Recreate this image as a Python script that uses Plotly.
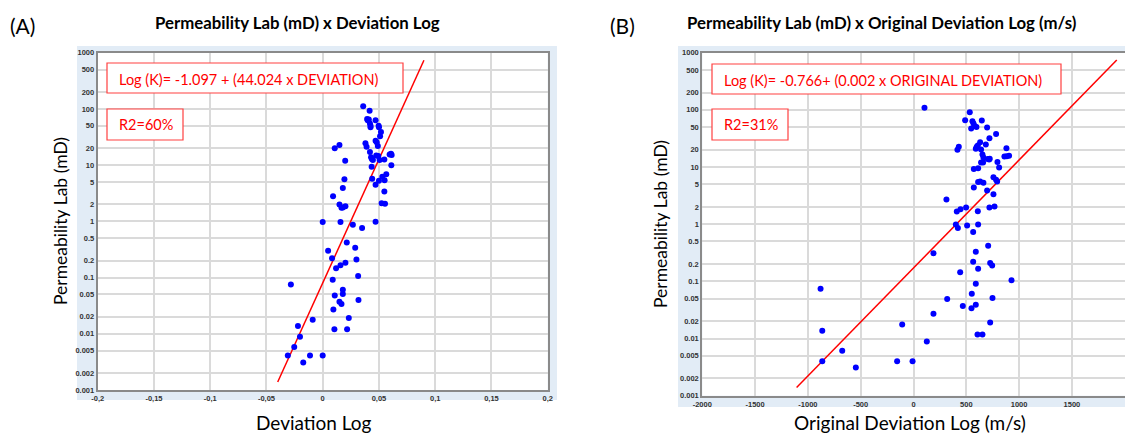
import plotly.graph_objects as go

W, H = 1125, 435

# ---------------- data ----------------
dev_a = [0.036, 0.0417, 0.0395, 0.040, 0.041, 0.047, 0.042, 0.0425, 0.0425, 0.0497, 0.050, 0.0518, 0.051,
         0.0107, 0.0149, 0.038, 0.039, 0.047, 0.048, 0.049, 0.042, 0.0476, 0.0494, 0.043, 0.0437, 0.0446,
         0.0506, 0.0548, 0.0595, 0.0607, 0.0613, 0.061, 0.020, 0.0435, 0.044, 0.0193, 0.047, 0.050, 0.053,
         0.055, 0.0565, 0.0548, 0.0179, 0.0092, 0.0149, 0.0167, 0.0179, 0.0202, 0.0524, 0.0554, 0.0,
         0.0158, 0.047, 0.0268, 0.035,
         0.0214, 0.0289, 0.0048, 0.0083, 0.030, 0.0202, 0.0158, 0.0119, 0.0315, 0.0089, -0.0283, 0.0179,
         0.0107, 0.0179, 0.0318, 0.0149, 0.0167, 0.0095, 0.0232, -0.0089, -0.022, 0.0104, 0.0217, -0.0202,
         -0.0253, -0.031, -0.0113, 0.0, -0.0173]
perm_a = [111, 93, 66, 63, 65, 63, 55, 50, 47, 50, 47, 39, 32.5,
          20, 22.8, 24.4, 21.3, 27.2, 25.4, 21.9, 17.1, 14.9, 14.5, 13.8, 12.9, 12.3,
          12.3, 12.6, 15.5, 15.9, 15.2, 10, 12, 9.4, 5.7, 5.6, 4.5, 5.3, 6.2,
          5.4, 6.9, 3.4, 3.9, 2.8, 2.0, 1.75, 1.76, 1.85, 2.1, 2.05, 0.97,
          0.97, 0.98, 0.87, 0.76,
          0.42, 0.34, 0.30, 0.22, 0.21, 0.184, 0.165, 0.146, 0.107, 0.091, 0.075, 0.061,
          0.048, 0.051, 0.040, 0.037, 0.034, 0.027, 0.019, 0.0177, 0.0138, 0.012, 0.012, 0.0089,
          0.0058, 0.0041, 0.0041, 0.0041, 0.0031]

dev_b = [104, 533, 489, 558, 568, 647, 546, 580, 596, 697, 782, 719, 631, 609, 599, 590, 685, 429, 416,
         640, 880, 653, 662, 703, 722, 716, 861, 905, 883, 640, 659, 795, 571, 612, 811, 612, 631, 662,
         757, 782, 792, 571, 697, 757, 312, 410, 445, 498, 609, 719, 767, 401, 420, 508, 612, 565,
         707, 189, 590, 565, 726, 745, 612, 442, 928, 590, -880, 552, 319, 748, 467, 549, 590, 189,
         726, -107, -864, 606, 653, 126, -675, -864, -155, -9, -546]
perm_b = [109, 91, 66, 63, 58, 65, 47, 52, 50, 49, 38, 32, 27, 23.8, 22.6, 20.9, 24.8, 22.6, 20,
          20.3, 21.4, 16.6, 14.7, 13.8, 14, 13.5, 15.3, 15.7, 15.5, 12, 12, 12.2, 9.2, 9.5, 9.8, 5.5, 5.6, 5.3,
          6.6, 6.0, 5.6, 4.4, 3.9, 3.35, 2.7, 1.66, 1.82, 1.95, 1.69, 1.95, 2.05, 0.99, 0.86, 0.95, 0.99, 0.73,
          0.42, 0.31, 0.33, 0.22, 0.21, 0.19, 0.166, 0.144, 0.105, 0.091, 0.074, 0.061, 0.049, 0.051, 0.037,
          0.034, 0.039, 0.027, 0.019, 0.0176, 0.0137, 0.0118, 0.0118, 0.0089, 0.0061, 0.004, 0.004, 0.004, 0.0031]

# regression fits (log10 K = a + b*x)
fit_a = {"a": -1.097, "b": 44.024, "x0": -0.04, "x1": 0.09}
fit_b = {"a": -0.766, "b": 0.00189, "x0": -1107, "x1": 1925}

y_ticks = [0.001, 0.002, 0.005, 0.01, 0.02, 0.05, 0.1, 0.2, 0.5, 1, 2, 5, 10, 20, 50, 100, 200, 500, 1000]
y_ticktext = ["0.001", "0.002", "0.005", "0.01", "0.02", "0.05", "0.1", "0.2", "0.5", "1", "2", "5",
              "10", "20", "50", "100", "200", "500", "1000"]
xa_ticks = [-0.2, -0.15, -0.1, -0.05, 0, 0.05, 0.1, 0.15, 0.2]
xa_ticktext = ["-0,2", "-0,15", "-0,1", "-0,05", "0", "0,05", "0,1", "0,15", "0,2"]
xb_ticks = [-2000, -1500, -1000, -500, 0, 500, 1000, 1500, 2000]
xb_ticktext = ["-2000", "-1500", "-1000", "-500", "0", "500", "1000", "1500", "2000"]


def px(x):
    return x / W


def py(y):
    return 1 - y / H


def fit_line(f):
    xs = [f["x0"], f["x1"]]
    ys = [10 ** (f["a"] + f["b"] * x) for x in xs]
    return xs, ys


fig = go.Figure()
la_x, la_y = fit_line(fit_a)
lb_x, lb_y = fit_line(fit_b)

fig.add_trace(go.Scatter(x=la_x, y=la_y, mode="lines", line=dict(color="#ff0000", width=1.5),
                         xaxis="x", yaxis="y", showlegend=False, hoverinfo="skip"))
fig.add_trace(go.Scatter(x=dev_a, y=perm_a, mode="markers", marker=dict(color="#0000ff", size=6),
                         xaxis="x", yaxis="y", showlegend=False))
fig.add_trace(go.Scatter(x=lb_x, y=lb_y, mode="lines", line=dict(color="#ff0000", width=1.5),
                         xaxis="x2", yaxis="y2", showlegend=False, hoverinfo="skip"))
fig.add_trace(go.Scatter(x=dev_b, y=perm_b, mode="markers", marker=dict(color="#0000ff", size=6),
                         xaxis="x2", yaxis="y2", showlegend=False))

tickfont = dict(family="Liberation Sans", size=7.5, color="#333333", weight="bold")
grid = "#dadada"
frame = "#8a8a8a"

common_x = dict(showgrid=True, gridcolor=grid, gridwidth=1.5, showline=True, mirror=True,
                linecolor=frame, linewidth=2, ticks="", zeroline=False, tickfont=tickfont, tickmode="array",
                automargin=False)
common_y = dict(type="log", range=[-3, 3], tickvals=y_ticks, ticktext=y_ticktext, showgrid=True,
                gridcolor=grid, gridwidth=1.5, showline=True, mirror=True, linecolor=frame, linewidth=2,
                ticks="", zeroline=False, tickfont=tickfont, tickmode="array", automargin=False)

fig.update_layout(
    width=W, height=H, autosize=False,
    margin=dict(l=0, r=0, t=0, b=0, pad=0, autoexpand=False),
    paper_bgcolor="white", plot_bgcolor="white",
    showlegend=False,
    xaxis=dict(domain=[px(97.7), px(547.7)], range=[-0.2, 0.2], tickvals=xa_ticks, ticktext=xa_ticktext,
               anchor="y", **common_x),
    yaxis=dict(domain=[py(390), py(52.7)], anchor="x", **common_y),
    xaxis2=dict(domain=[px(702.3), px(1124.7)], range=[-2000, 2000], tickvals=xb_ticks, ticktext=xb_ticktext,
                anchor="y2", **common_x),
    yaxis2=dict(domain=[py(395.7), py(52.7)], anchor="x2", **common_y),
)

panel = "#e2ecf6"
shapes = [
    dict(type="rect", xref="paper", yref="paper", x0=px(77), x1=px(557), y0=py(400), y1=py(46),
         fillcolor=panel, line=dict(width=0), layer="below"),
    dict(type="rect", xref="paper", yref="paper", x0=px(678), x1=px(1125), y0=py(407), y1=py(46),
         fillcolor=panel, line=dict(width=0), layer="below"),
    dict(type="rect", xref="paper", yref="paper", x0=px(97.7), x1=px(547.7), y0=py(390), y1=py(52.7),
         fillcolor="white", line=dict(width=0), layer="below"),
    dict(type="rect", xref="paper", yref="paper", x0=px(702.3), x1=px(1125), y0=py(395.7), y1=py(52.7),
         fillcolor="white", line=dict(width=0), layer="below"),
    dict(type="rect", xref="paper", yref="paper", x0=px(107), x1=px(403), y0=py(93), y1=py(63),
         fillcolor="white", line=dict(color="#ff4040", width=1.2)),
    dict(type="rect", xref="paper", yref="paper", x0=px(107), x1=px(183), y0=py(140), y1=py(109),
         fillcolor="white", line=dict(color="#ff4040", width=1.2)),
    dict(type="rect", xref="paper", yref="paper", x0=px(712), x1=px(1061), y0=py(94), y1=py(64),
         fillcolor="white", line=dict(color="#ff4040", width=1.2)),
    dict(type="rect", xref="paper", yref="paper", x0=px(712), x1=px(788), y0=py(140), y1=py(109),
         fillcolor="white", line=dict(color="#ff4040", width=1.2)),
]
fig.update_layout(shapes=shapes)

F = "Lato"
ann = []


def text(x, y, s, size, color="#000000", bold=False, xanchor="center", angle=0):
    ann.append(dict(x=px(x), y=py(y), xref="paper", yref="paper", text=s, showarrow=False,
                    xanchor=xanchor, yanchor="middle", textangle=angle,
                    font=dict(family=F, size=size, color=color, weight="bold" if bold else "normal")))


text(22, 26, "(A)", 21)
text(622, 26, "(B)", 21)
text(297, 23, "Permeability Lab (mD) x Deviation Log", 16.8, bold=True)
text(881, 23, "Permeability Lab (mD) x Original Deviation Log (m/s)", 16.8, bold=True)
text(60, 221, "Permeability Lab (mD)", 17.5, angle=-90)
text(660, 224, "Permeability Lab (mD)", 17.5, angle=-90)
text(314, 422, "Deviation Log", 19)
text(910, 422, "Original Deviation Log (m/s)", 19)
text(117, 79, "Log (K)= -1.097 + (44.024 x DEVIATION)", 14.5, color="#ff0000", xanchor="left")
text(117, 125, "R2=60%", 14.5, color="#ff0000", xanchor="left")
text(722, 80, "Log (K)= -0.766+ (0.002 x ORIGINAL DEVIATION)", 14.5, color="#ff0000", xanchor="left")
text(722, 125, "R2=31%", 14.5, color="#ff0000", xanchor="left")
fig.update_layout(annotations=ann)

fig.write_html("out.html", config={"displayModeBar": False},
               post_script="document.body.style.margin='0px';document.body.style.overflow='hidden';")
